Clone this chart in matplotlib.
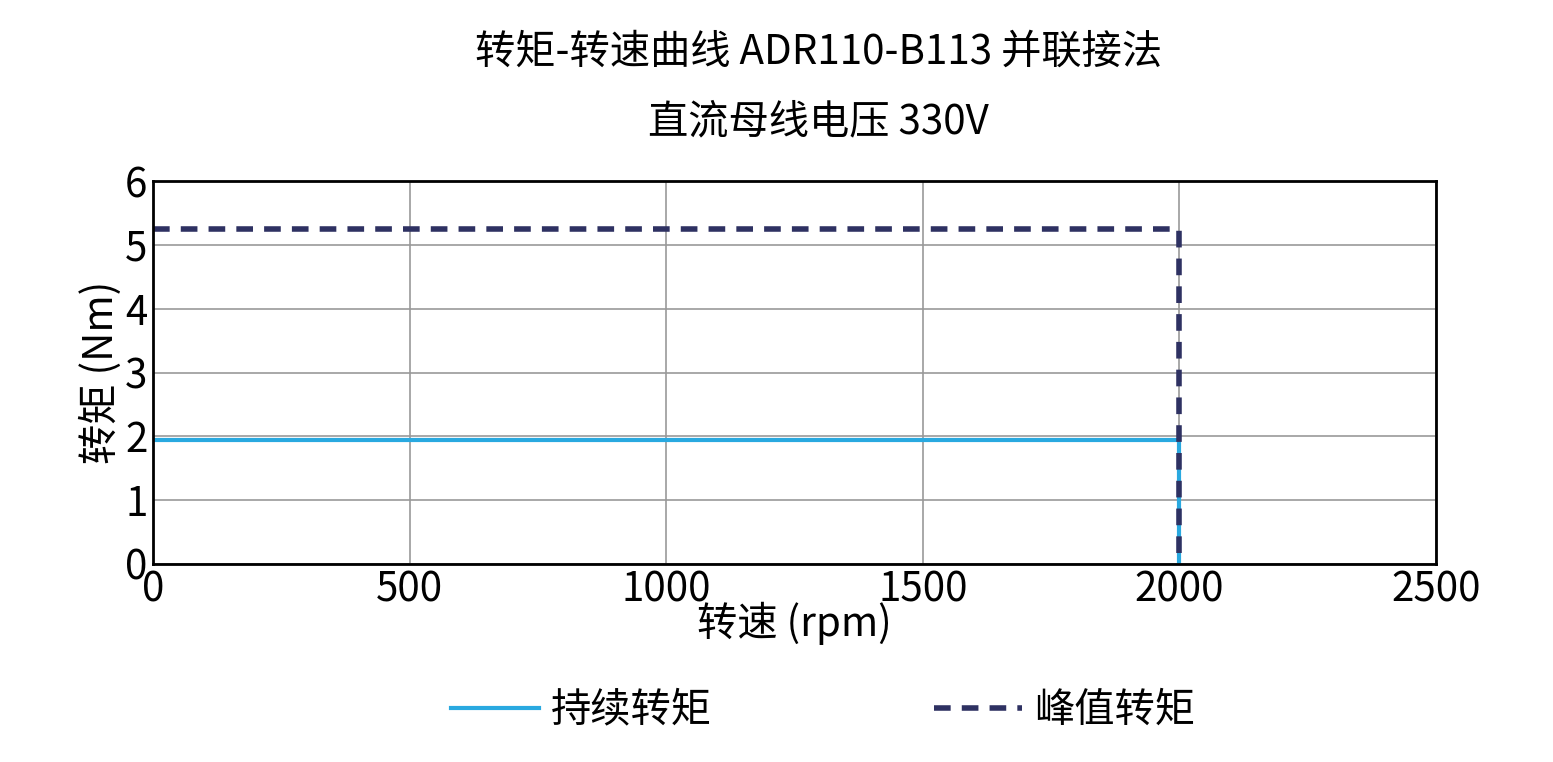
import matplotlib
matplotlib.use("Agg")
import matplotlib.pyplot as plt

plt.rcParams['font.family'] = ['Noto Sans CJK SC', 'DejaVu Sans']

cont_x = [0, 2000, 2000]
cont_y = [1.95, 1.95, 0]
peak_x = [0, 2000, 2000]
peak_y = [5.25, 5.25, 0]

fig = plt.figure(figsize=(15.53, 7.62), dpi=100)
ax = fig.add_axes([153/1553, 1-564/762, (1436-153)/1553, (564-181)/762])
ax.plot(cont_x, cont_y, color='#29a9e0', lw=3, label='持续转矩')
ax.plot(peak_x, peak_y, color='#2e3162', lw=4, ls=(0, (3, 2)), label='峰值转矩')
ax.set_xlim(0, 2500)
ax.set_ylim(0, 6)
ax.set_xticks(range(0, 2501, 500))
ax.set_yticks(range(0, 7))
ax.grid(True, color='#999999', lw=1.2)
ax.tick_params(labelsize=29, length=0, pad=4)
for s in ax.spines.values():
    s.set_linewidth(2)
ax.set_xlabel('转速 (rpm)', fontsize=29, labelpad=-6)
ax.set_ylabel('转矩 (Nm)', fontsize=29, labelpad=2)
fig.text(0.527, 0.932, '转矩-转速曲线 ADR110-B113 并联接法', ha='center', va='center', fontsize=29)
fig.text(0.527, 0.84, '直流母线电压 330V', ha='center', va='center', fontsize=29)
fig.legend(loc='center', bbox_to_anchor=(0.53, 0.068), ncol=2, fontsize=29,
           frameon=False, handlelength=2.2, handletextpad=0.3, columnspacing=5.5)
fig.savefig('out.png', dpi=100)
